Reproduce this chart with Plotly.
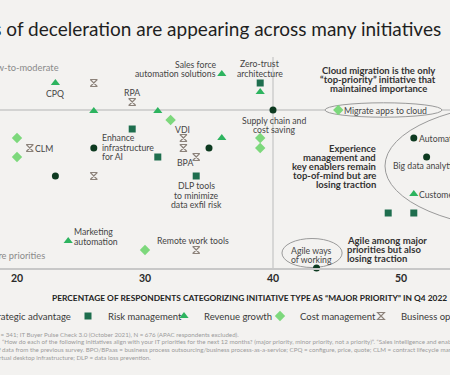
import plotly.graph_objects as go

# ---------------- data ----------------
series_names = ["Strategic advantage", "Risk management", "Revenue growth",
                "Cost management", "Business operations"]

# x: % of respondents rating the initiative type as "major priority" in Q4 2022
# y: change versus the previous survey (relative scale; 0 = no change)
strategic_x = [26.0, 35.0, 23.0, 40.0, 51.0, 52.0, 43.4]
strategic_y = [-3.8, -3.8, -6.6, 0.0, -2.8, -4.7, -15.8]
strategic_lbl = ["Enhance infrastructure for AI", "", "", "Supply chain and cost saving",
                 "Automation tools", "Big data analytics", "Agile ways of working"]

risk_x = [29.0, 31.0, 34.0, 39.0, 49.0, 51.0]
risk_y = [-1.9, -4.7, -6.6, 2.7, -10.3, -10.3]
risk_lbl = ["", "", "DLP tools to minimize data exfil risk", "Zero-trust architecture", "", ""]

revenue_x = [23.0, 26.0, 31.0, 36.0, 36.0, 39.0, 51.0, 24.0]
revenue_y = [2.7, -0.1, -0.1, 3.6, -2.8, 1.8, -8.4, -13.1]
revenue_lbl = ["CPQ", "", "", "Sales force automation solutions", "", "",
               "Customer experience tools", "Marketing automation"]

cost_x = [32.0, 20.0, 20.0, 39.0, 39.0, 45.1, 30.0]
cost_y = [-1.0, -2.8, -4.7, -2.8, -3.8, 0.0, -14.0]
cost_lbl = ["", "", "", "", "", "Migrate apps to cloud", ""]

busops_x = [26.0, 29.0, 33.0, 21.0, 33.0, 34.0, 26.0, 34.0]
busops_y = [2.7, 0.8, -2.8, -3.8, -3.8, -4.7, -6.6, -14.0]
busops_lbl = ["", "RPA", "VDI", "CLM", "", "BPA", "", "Remote work tools"]

x_ticks = [20, 30, 40, 50]

# ---------------- styles ----------------
W, H = 450, 375
MT, MB = 57, 107            # plot area: pixel rows 57..268
PH = H - MT - MB
BG = "#f3f2f0"
FONT = "Lato"
colors = ["#0d3a20", "#1e6e4e", "#2db45f", "#7dd87c", "#8c827a"]
symbols = ["circle", "square", "triangle-up", "diamond", "hourglass-open"]
sizes = [7, 7, 8, 8, 7]
LS = 9.2        # line spacing of point labels (px)
NS = 9.0        # line spacing of bold notes (px)

# label placement: lines, xanchor, xshift, yshift of the block centre
label_style = {
    "Enhance infrastructure for AI": (["Enhance", "infrastructure", "for AI"], "left", 7, 1),
    "Supply chain and cost saving": (["Supply chain and", "cost saving"], "center", 1, -15),
    "Automation tools": (["Automation tools"], "left", 4, 0),
    "Big data analytics": (["Big data analytics"], "left", -35, -8),
    "Agile ways of working": (["Agile ways", "of working"], "center", -5, 13),
    "DLP tools to minimize data exfil risk": (["DLP tools", "to minimize", "data exfil risk"], "center", 0, -19),
    "Zero-trust architecture": (["Zero-trust", "architecture"], "center", 0, 14.5),
    "CPQ": (["CPQ"], "center", 0, -10),
    "Sales force automation solutions": (["Sales force", "automation solutions"], "right", -5, 5),
    "Customer experience tools": (["Customer experience tools"], "left", 4, 0),
    "Marketing automation": (["Marketing", "automation"], "left", 5, 4.5),
    "Migrate apps to cloud": (["Migrate apps to cloud"], "left", 5, 0),
    "RPA": (["RPA"], "center", 0, 10),
    "VDI": (["VDI"], "center", -1, 9),
    "CLM": (["CLM"], "left", 4, 0),
    "BPA": (["BPA"], "right", -2, -5),
    "Remote work tools": (["Remote work tools"], "center", -3, 10),
}

all_series = [
    (strategic_x, strategic_y, strategic_lbl),
    (risk_x, risk_y, risk_lbl),
    (revenue_x, revenue_y, revenue_lbl),
    (cost_x, cost_y, cost_lbl),
    (busops_x, busops_y, busops_lbl),
]

legend_keys = ["legend", "legend2", "legend3", "legend4", "legend5"]

fig = go.Figure()
annotations = []
for i, (xs, ys, lbls) in enumerate(all_series):
    fig.add_trace(go.Scatter(
        x=xs, y=ys, mode="markers", name=series_names[i], legend=legend_keys[i],
        marker=dict(symbol=symbols[i], size=sizes[i], color=colors[i],
                    line=dict(width=1.1 if symbols[i] == "hourglass-open" else 0, color=colors[i])),
        cliponaxis=False, hoverinfo="text", text=lbls,
    ))
    for x, y, l in zip(xs, ys, lbls):
        if not l:
            continue
        lines, anc, xs_, ys_ = label_style[l]
        n = len(lines)
        for k, line in enumerate(lines):
            annotations.append(dict(
                x=x, y=y, xref="x", yref="y", text=line, showarrow=False,
                xanchor=anc, yanchor="middle", borderpad=0,
                xshift=xs_, yshift=ys_ + ((n - 1) / 2 - k) * LS,
                font=dict(family=FONT, size=8.7, color="#454545"),
            ))


def paper_note(lines, x, y, xanchor, size, color, weight="normal", spacing=NS):
    # block centre given in canvas pixels, converted to paper coordinates
    out = []
    n = len(lines)
    for k, line in enumerate(lines):
        yy = y - ((n - 1) / 2 - k) * spacing
        out.append(dict(text=line, x=x / W, y=(H - MB - yy) / PH, xref="paper", yref="paper",
                        xanchor=xanchor, yanchor="middle", showarrow=False, borderpad=0,
                        font=dict(family=FONT, size=size, color=color, weight=weight)))
    return out


FN = 6.2
annotations += paper_note(["Signs of deceleration are appearing across many initiatives"], 442, 29, "right", 19, "#1f1f1f")
annotations += paper_note(["Low-to-moderate"], 60, 67, "right", 9.3, "#8a8a8a")
annotations += paper_note(["Core priorities"], 46, 255, "right", 9.3, "#8a8a8a")
annotations += paper_note(["Cloud migration is the only", "\u201ctop-priority\u201d initiative that",
                           "maintained importance"], 378, 79, "center", 9.5, "#333333", "bold")
annotations += paper_note(["Experience", "management and", "key enablers remain",
                           "top-of-mind but are", "losing traction"], 377, 166, "right", 9.5, "#333333", "bold")
annotations += paper_note(["Agile among major", "priorities but also", "losing traction"],
                          346, 249.5, "left", 9.5, "#333333", "bold")
annotations += paper_note(["PERCENTAGE OF RESPONDENTS CATEGORIZING INITIATIVE TYPE AS \u201cMAJOR PRIORITY\u201d IN Q4 2022"],
                          448, 298, "right", 8.4, "#222222", "bold")
annotations += paper_note(["Source: BCG IT Buyer Pulse Check 4.0 (December 2022), N = 341; IT Buyer Pulse Check 3.0 (October 2021), N = 676 (APAC respondents excluded)."],
                          240, 334, "right", FN, "#9b9b9b")
annotations += paper_note(["\u201cHow do each of the following initiatives align with your IT priorities for the next 12 months? (major priority, minor priority, not a priority)\u201d. \u201cSales intelligence and enablement\u201d was excluded due to lack"],
                          1, 341.5, "left", FN, "#9b9b9b")
annotations += paper_note(["of data from the previous survey. BPO/BPaas = business process outsourcing/business process-as-a-service; CPQ = configure, price, quote; CLM = contract lifecycle management;"],
                          -6, 349.5, "left", FN, "#9b9b9b")
annotations += paper_note(["VDI = virtual desktop infrastructure; DLP = data loss prevention."],
                          152, 357, "right", FN, "#9b9b9b")

shapes = [
    dict(type="line", xref="paper", yref="y", x0=0, x1=1, y0=0, y1=0,
         line=dict(color="#c8c8c8", width=1.3), layer="below"),
    dict(type="line", xref="x", yref="paper", x0=40, x1=40, y0=0, y1=1,
         line=dict(color="#c8c8c8", width=1.3), layer="below"),
    dict(type="circle", xref="x", yref="y", x0=44.06, x1=53.2, y0=-0.72, y1=0.72,
         fillcolor=BG, line=dict(color="#9a9a9a", width=1), layer="below"),
    dict(type="circle", xref="x", yref="y", x0=48.75, x1=72.2, y0=-12.0, y1=0.8,
         fillcolor="rgba(0,0,0,0)", line=dict(color="#9a9a9a", width=1), layer="below"),
    dict(type="circle", xref="x", yref="y", x0=40.7, x1=45.4, y0=-15.75, y1=-12.85,
         fillcolor=BG, line=dict(color="#9a9a9a", width=1), layer="below"),
]

legend_common = dict(orientation="h", yanchor="middle",
                     y=(H - MB - 316) / PH,
                     font=dict(family=FONT, size=9.5, color="#3a3a3a"), itemwidth=30,
                     bgcolor="rgba(0,0,0,0)", borderwidth=0)
legends = {
    "legend": dict(legend_common, x=76 / W, xanchor="right"),
    "legend2": dict(legend_common, x=68 / W, xanchor="left"),
    "legend3": dict(legend_common, x=164 / W, xanchor="left"),
    "legend4": dict(legend_common, x=260 / W, xanchor="left"),
    "legend5": dict(legend_common, x=361 / W, xanchor="left"),
}

fig.update_layout(
    width=W, height=H, paper_bgcolor=BG, plot_bgcolor=BG,
    margin=dict(l=0, r=0, t=MT, b=MB, autoexpand=False),
    font=dict(family=FONT, color="#333"),
    xaxis=dict(range=[18.672, 53.828], tickvals=x_ticks, showgrid=False, zeroline=False,
               showline=True, linecolor="#c8c8c8", linewidth=1.5, ticks="",
               tickfont=dict(family=FONT, size=10.5, color="#2a2a2a", weight="bold")),
    yaxis=dict(range=[-15.8, 5.3], visible=False),
    showlegend=True,
    annotations=annotations, shapes=shapes,
    **legends,
)

fig.write_html("out.html", config={"displayModeBar": False},
               post_script="document.body.style.margin='0';document.body.style.overflow='hidden';")
